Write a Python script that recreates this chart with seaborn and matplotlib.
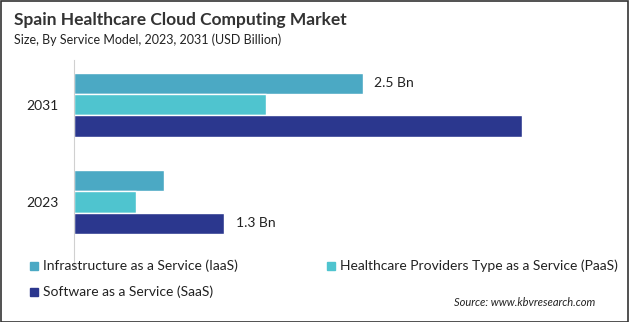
import matplotlib
matplotlib.use("Agg")
import matplotlib.pyplot as plt
import seaborn as sns
import pandas as pd
from matplotlib.patches import Rectangle

years = ["2031", "2023"]
series = ["Infrastructure as a Service (IaaS)",
          "Healthcare Providers Type as a Service (PaaS)",
          "Software as a Service (SaaS)"]
iaas = [2.5, 0.78]
paas = [1.66, 0.54]
saas = [3.88, 1.3]
colors = ["#4BA9C4", "#4FC4CF", "#2B378E"]
labels = {(0, "2031"): "2.5 Bn", (2, "2023"): "1.3 Bn"}

rows = []
for s, vals in zip(series, [iaas, paas, saas]):
    for y, v in zip(years, vals):
        rows.append({"Year": y, "Model": s, "Value": v})
df = pd.DataFrame(rows)

sns.set_style("white")
plt.rcParams['font.family'] = ['Lato', 'DejaVu Sans']

fig = plt.figure(figsize=(6.29, 3.22), dpi=100)
ax = fig.add_axes([74/629, 1-268/322, (605-74)/629, (268-60)/322])
sns.barplot(data=df, y="Year", x="Value", hue="Model", order=years,
            hue_order=series, palette=colors, orient="h", width=0.66,
            saturation=1, ax=ax, legend=False)
ax.set_xlim(0, 4.6)
ax.set_ylim(1.68, -0.46)
ax.set_xlabel("")
ax.set_ylabel("")
ax.set_xticks([])
for sp in ["top", "right", "bottom"]:
    ax.spines[sp].set_visible(False)
ax.spines["left"].set_color("#d0d0d0")
ax.spines["left"].set_linewidth(0.8)
ax.tick_params(axis="y", length=0, labelsize=10, pad=11, labelcolor="#222222")

for i, cont in enumerate(ax.containers):
    for j, bar in enumerate(cont):
        key = (i, years[j])
        if key in labels:
            ax.text(bar.get_width() + 0.1, bar.get_y() + bar.get_height()/2,
                    labels[key], va="center", ha="left", fontsize=10, color="#222222")

fig.text(14/629, 1-20/322, "Spain Healthcare Cloud Computing Market", fontsize=12.5,
         fontweight="bold", color="#333333", va="center", ha="left")
fig.text(14/629, 1-40/322, "Size, By Service Model, 2023, 2031 (USD Billion)", fontsize=9,
         color="#222222", va="center", ha="left")

leg = [(30, 266, 0), (327, 266, 1), (30, 292, 2)]
for x, y, k in leg:
    fig.patches.append(Rectangle((x/629, 1-(y+4)/322), 8/629, 8/322,
                                 transform=fig.transFigure, color=colors[k]))
    fig.text((x+13)/629, 1-y/322, series[k], fontsize=10, color="#222222",
             va="center", ha="left")

fig.text(595/629, 1-303/322, "Source: www.kbvresearch.com", fontsize=8, style="italic",
         color="#222222", va="center", ha="right")

fig.patches.append(Rectangle((0.5/629, 0.5/322), 627.5/629, 320.5/322, transform=fig.transFigure,
                             fill=False, edgecolor="#333333", linewidth=1.2))

fig.savefig("out.png", dpi=100)
